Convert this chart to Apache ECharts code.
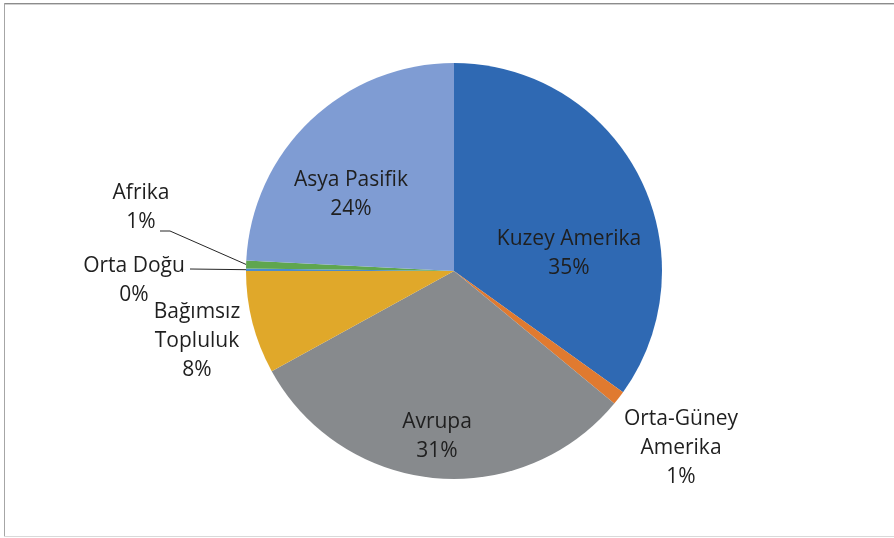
<!DOCTYPE html>
<html lang="tr" style="width: 100%; height: 100%">
<head>
  <meta charset="utf-8">
</head>
<body style="margin: 0; width: 894px; height: 538px; background: #fff">
  <div id="container" style="width: 894px; height: 538px"></div>

  <script type="text/javascript" src="https://cdn.jsdelivr.net/npm/echarts@6/dist/echarts.min.js"></script>

  <script type="text/javascript">

var regions = ['Kuzey Amerika', 'Orta-Güney Amerika', 'Avrupa', 'Bağımsız Topluluk', 'Orta Doğu', 'Afrika', 'Asya Pasifik'];
var shares = [34.9, 1.1, 31.0, 8.0, 0.2, 0.6, 24.2];
var labelNames = ['Kuzey Amerika', 'Orta-Güney\nAmerika', 'Avrupa', 'Bağımsız\nTopluluk', 'Orta Doğu', 'Afrika', 'Asya Pasifik'];
var colors = ['#2f69b3', '#e07a30', '#878a8d', '#e0a82a', '#4a8ccf', '#5fa64f', '#7f9cd3'];

// where Excel put each label (centre of the text block)
var labelPos = {
  'Kuzey Amerika': [569, 254],
  'Orta-Güney Amerika': [681, 448],
  'Avrupa': [437, 437],
  'Bağımsız Topluluk': [197, 341],
  'Orta Doğu': [134, 281],
  'Afrika': [141, 208],
  'Asya Pasifik': [351, 195]
};
// leader line end (relative to label centre) and elbow length
var leaders = {
  'Afrika': { end: [19, 23], elbow: 10 },
  'Orta Doğu': { end: [56, -12], elbow: 0 }
};

var dom = document.getElementById('container');
var myChart = echarts.init(dom, null, { renderer: 'canvas' });

var pieData = regions.map(function (name, i) {
  var big = shares[i] > 5 && name !== 'Bağımsız Topluluk';
  return {
    name: name,
    value: shares[i],
    itemStyle: { color: colors[i] },
    label: { position: big ? 'inside' : 'outside' },
    labelLine: { show: !!leaders[name] }
  };
});

var option = {
  animation: false,
  backgroundColor: '#fff',
  graphic: [
    { type: 'line', shape: { x1: 4, y1: 3.5, x2: 894, y2: 3.5 }, style: { stroke: '#8c8c8c', lineWidth: 1 } },
    { type: 'line', shape: { x1: 4, y1: 4.5, x2: 894, y2: 4.5 }, style: { stroke: '#d0d0d0', lineWidth: 1 } },
    { type: 'line', shape: { x1: 4.5, y1: 3, x2: 4.5, y2: 537 }, style: { stroke: '#a6a6a6', lineWidth: 1 } },
    { type: 'line', shape: { x1: 4, y1: 536.5, x2: 894, y2: 536.5 }, style: { stroke: '#d9d9d9', lineWidth: 1 } }
  ],
  series: [{
    type: 'pie',
    center: [454, 271],
    radius: 208,
    startAngle: 90,
    clockwise: true,
    avoidLabelOverlap: false,
    data: pieData,
    label: {
      show: true,
      color: '#1f1f1f',
      fontFamily: 'Open Sans',
      fontSize: 21,
      lineHeight: 29,
      align: 'center',
      formatter: function (p) {
        return labelNames[p.dataIndex] + '\n' + Math.round(p.value) + '%';
      }
    },
    labelLine: {
      show: true,
      length: 10,
      length2: 10,
      smooth: false,
      lineStyle: { color: '#262626', width: 1 }
    },
    labelLayout: function (params) {
      var name = regions[params.dataIndex];
      var pos = labelPos[name];
      var out = { x: pos[0], y: pos[1], align: 'center', verticalAlign: 'middle' };
      var ld = leaders[name];
      if (ld && params.labelLinePoints) {
        var start = params.labelLinePoints[0];
        var end = [pos[0] + ld.end[0], pos[1] + ld.end[1]];
        var elbow = [end[0] + ld.elbow, end[1]];
        out.labelLinePoints = [start, elbow, end];
      }
      return out;
    }
  }]
};

myChart.setOption(option);
window.addEventListener('resize', myChart.resize);

  </script>
</body>
</html>
